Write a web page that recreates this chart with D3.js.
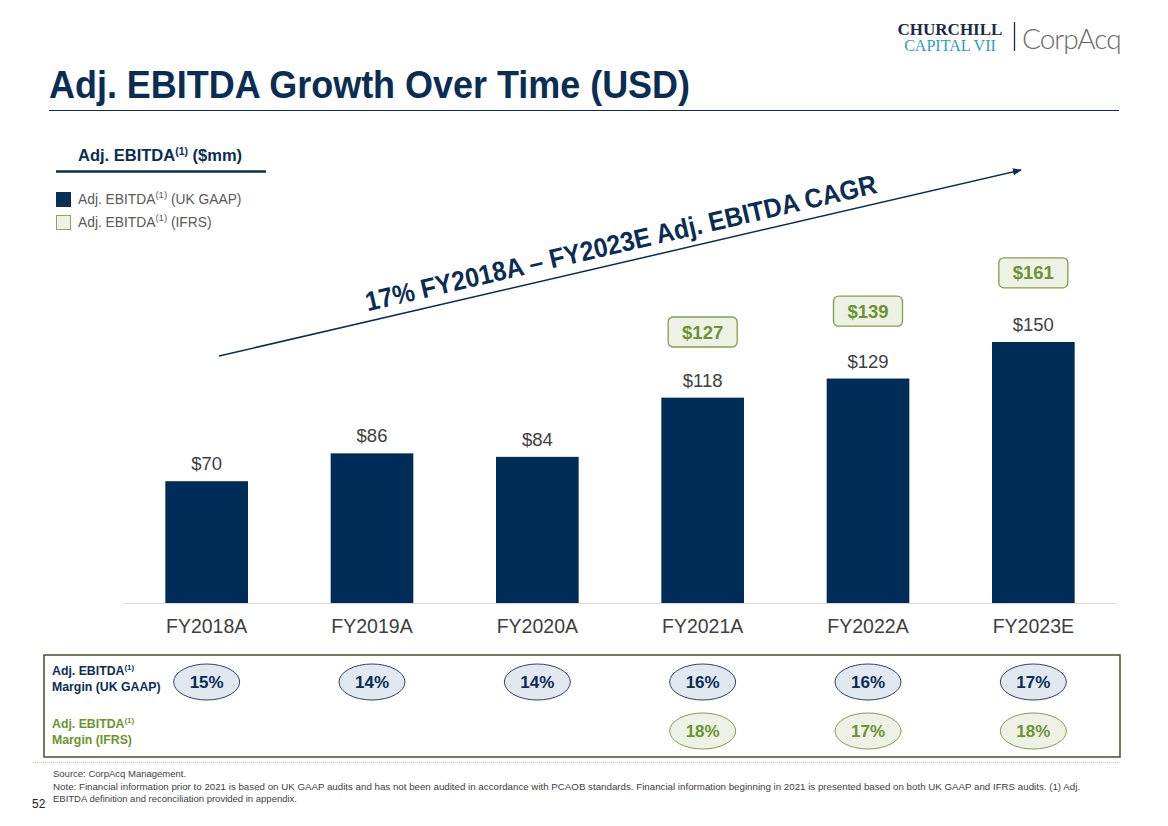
<!DOCTYPE html>
<html><head><meta charset="utf-8">
<script src="https://cdn.jsdelivr.net/npm/d3@7"></script>
<style>
html,body{margin:0;padding:0;background:#fff;}
svg{display:block;font-family:Arial,"Liberation Sans",sans-serif;}
</style></head>
<body>
<svg id="c" width="1168" height="826"></svg>
<script>
const categories = ["FY2018A","FY2019A","FY2020A","FY2021A","FY2022A","FY2023E"];
const gaapValues = [70, 86, 84, 118, 129, 150];
const ifrsValues = [null, null, null, 127, 139, 161];
const gaapMargins = ["15%","14%","14%","16%","16%","17%"];
const ifrsMargins = [null, null, null, "18%","17%","18%"];

const navy = "#0a2d55", green = "#6b9431", gray = "#404040";
const svg = d3.select("#c");

// scales
const x = d3.scaleBand().domain(categories).range([124, 1116]).paddingInner(0.5).paddingOuter(0.25);
const y = d3.scaleLinear().domain([0, 200]).range([603, 255]);

// Title
svg.append("text").attr("x", 49).attr("y", 98).attr("font-size", 39).attr("font-weight", "bold")
  .attr("fill", navy).attr("textLength", 641).attr("lengthAdjust", "spacingAndGlyphs")
  .text("Adj. EBITDA Growth Over Time (USD)");
svg.append("line").attr("x1", 49).attr("x2", 1119).attr("y1", 110.5).attr("y2", 110.5)
  .attr("stroke", navy).attr("stroke-width", 1);

// Logo
svg.append("text").attr("x", 950).attr("y", 35).attr("text-anchor", "middle")
  .attr("font-family", "'Liberation Serif','DejaVu Serif',serif").attr("font-weight", "bold")
  .attr("font-size", 17).attr("fill", "#1c2a48").text("CHURCHILL");
svg.append("text").attr("x", 950).attr("y", 51).attr("text-anchor", "middle")
  .attr("font-family", "'Liberation Serif','DejaVu Serif',serif")
  .attr("font-size", 16).attr("fill", "#2a9fb8").text("CAPITAL VII");
svg.append("line").attr("x1", 1014.5).attr("x2", 1014.5).attr("y1", 22).attr("y2", 51)
  .attr("stroke", "#1c2a48").attr("stroke-width", 1.3);
svg.append("text").attr("x", 1022).attr("y", 49).attr("font-size", 28).attr("font-weight", 300)
  .attr("font-family", "Lato,'Open Sans',sans-serif").attr("fill", "#6a6a6a").attr("letter-spacing", -1).text("CorpAcq");

// Legend header
const lh = svg.append("text").attr("x", 78).attr("y", 161).attr("font-size", 16.5).attr("font-weight", "bold").attr("fill", navy);
lh.append("tspan").text("Adj. EBITDA");
lh.append("tspan").attr("font-size", 10.5).attr("dy", -6).text("(1)");
lh.append("tspan").attr("dy", 6).text(" ($mm)");
svg.append("line").attr("x1", 56).attr("x2", 266).attr("y1", 171.5).attr("y2", 171.5).attr("stroke", navy).attr("stroke-width", 2.5);

const legendItems = [
  {label: "(UK GAAP)", fill: navy, stroke: navy},
  {label: "(IFRS)", fill: "#eef1e6", stroke: "#8aaa52"}
];
legendItems.forEach((d, i) => {
  const yy = 192 + i * 23;
  svg.append("rect").attr("x", 56.5).attr("y", yy + 0.5).attr("width", 14).attr("height", 14)
    .attr("fill", d.fill).attr("stroke", d.stroke).attr("stroke-width", 1);
  const t = svg.append("text").attr("x", 78).attr("y", yy + 12).attr("font-size", 13.8).attr("fill", "#595959");
  t.append("tspan").text("Adj. EBITDA");
  t.append("tspan").attr("font-size", 9.5).attr("dy", -6).text("(1)");
  t.append("tspan").attr("dy", 6).text(" " + d.label);
});

// baseline axis
const xAxis = d3.axisBottom(x).tickSize(0).tickPadding(16);
const ax = svg.append("g").attr("transform", `translate(0,${y(0)})`).call(xAxis);
ax.select(".domain").attr("stroke", "#d9d9d9").attr("d", "M124,0.5H1116");
ax.selectAll("text").attr("font-size", 19.5).attr("fill", gray).attr("font-family", "Arial,'Liberation Sans',sans-serif");

// bars
svg.selectAll("rect.bar").data(categories).enter().append("rect").attr("class", "bar")
  .attr("x", d => x(d)).attr("width", x.bandwidth())
  .attr("y", (d, i) => y(gaapValues[i])).attr("height", (d, i) => y(0) - y(gaapValues[i]))
  .attr("fill", "#002d57");

svg.selectAll("text.val").data(categories).enter().append("text").attr("class", "val")
  .attr("x", d => x(d) + x.bandwidth() / 2).attr("y", (d, i) => y(gaapValues[i]) - 11)
  .attr("text-anchor", "middle").attr("font-size", 18.5).attr("fill", gray)
  .text((d, i) => "$" + gaapValues[i]);

// IFRS boxes
categories.forEach((c, i) => {
  if (ifrsValues[i] == null) return;
  const cx = x(c) + x.bandwidth() / 2;
  const cy = y(ifrsValues[i]) - 50;
  svg.append("rect").attr("x", cx - 34.5).attr("y", cy - 15).attr("width", 69).attr("height", 30)
    .attr("rx", 5).attr("fill", "#eef2e6").attr("stroke", "#7fa046").attr("stroke-width", 1.3);
  svg.append("text").attr("x", cx).attr("y", cy + 6.5).attr("text-anchor", "middle")
    .attr("font-size", 18.5).attr("font-weight", "bold").attr("fill", green).text("$" + ifrsValues[i]);
});

// CAGR arrow
const defs = svg.append("defs");
defs.append("marker").attr("id", "arr").attr("viewBox", "0 0 10 10").attr("refX", 9).attr("refY", 5)
  .attr("markerWidth", 6).attr("markerHeight", 6).attr("orient", "auto")
  .append("path").attr("d", "M0,1L10,5L0,9Z").attr("fill", navy);
const ax0 = 219, ay0 = 356, ax1 = 1021, ay1 = 170;
svg.append("line").attr("x1", ax0).attr("y1", ay0).attr("x2", ax1).attr("y2", ay1)
  .attr("stroke", navy).attr("stroke-width", 1.5).attr("marker-end", "url(#arr)");
const ang = Math.atan2(ay1 - ay0, ax1 - ax0) * 180 / Math.PI;
svg.append("text").attr("transform", `translate(623,252) rotate(${ang})`).attr("text-anchor", "middle")
  .attr("font-size", 27).attr("font-weight", "bold").attr("fill", navy)
  .attr("textLength", 524).attr("lengthAdjust", "spacingAndGlyphs")
  .text("17% FY2018A \u2013 FY2023E Adj. EBITDA CAGR");

// Margin box
svg.append("rect").attr("x", 44).attr("y", 655).attr("width", 1076).attr("height", 102)
  .attr("fill", "none").attr("stroke", "#4d5a33").attr("stroke-width", 1.6);

function rowLabel(yy, color, second) {
  const t = svg.append("text").attr("x", 52).attr("y", yy).attr("font-size", 12.3).attr("font-weight", "bold").attr("fill", color);
  t.append("tspan").text("Adj. EBITDA");
  t.append("tspan").attr("font-size", 8).attr("dy", -5).text("(1)");
  svg.append("text").attr("x", 52).attr("y", yy + 16).attr("font-size", 12.3).attr("font-weight", "bold").attr("fill", color).text(second);
}
rowLabel(675, navy, "Margin (UK GAAP)");
rowLabel(728, green, "Margin (IFRS)");

categories.forEach((c, i) => {
  const cx = x(c) + x.bandwidth() / 2;
  svg.append("ellipse").attr("cx", cx).attr("cy", 682).attr("rx", 33).attr("ry", 18)
    .attr("fill", "#e1e8f0").attr("stroke", "#2a4466").attr("stroke-width", 1);
  svg.append("text").attr("x", cx).attr("y", 688).attr("text-anchor", "middle").attr("font-size", 17)
    .attr("font-weight", "bold").attr("fill", navy).text(gaapMargins[i]);
  if (ifrsMargins[i] != null) {
    svg.append("ellipse").attr("cx", cx).attr("cy", 731).attr("rx", 33).attr("ry", 18)
      .attr("fill", "#eef2e6").attr("stroke", "#7fa046").attr("stroke-width", 1);
    svg.append("text").attr("x", cx).attr("y", 737).attr("text-anchor", "middle").attr("font-size", 17)
      .attr("font-weight", "bold").attr("fill", green).text(ifrsMargins[i]);
  }
});

// dotted separator
svg.append("line").attr("x1", 33).attr("x2", 1120).attr("y1", 762.5).attr("y2", 762.5)
  .attr("stroke", "#c8c8c8").attr("stroke-width", 1).attr("stroke-dasharray", "1,1");

// Footnotes
const fnFont = "'Liberation Sans Narrow','Arial Narrow',Arial,sans-serif";
const foot = [
  {t: "Source: CorpAcq Management.", y: 777, len: null},
  {t: "Note: Financial information prior to 2021 is based on UK GAAP audits and has not been audited in accordance with PCAOB standards. Financial information beginning in 2021 is presented based on both UK GAAP and IFRS audits. (1) Adj.", y: 790, len: 1027},
  {t: "EBITDA definition and reconciliation provided in appendix.", y: 802, len: null}
];
foot.forEach(f => {
  const t = svg.append("text").attr("x", 53).attr("y", f.y).attr("font-size", 9.5)
    .attr("font-family", fnFont).attr("fill", "#404040").text(f.t);
  if (f.len) t.attr("textLength", f.len).attr("lengthAdjust", "spacingAndGlyphs");
});
svg.append("text").attr("x", 32).attr("y", 808).attr("font-size", 12).attr("font-family", fnFont)
  .attr("fill", "#222").text("52");
</script>
</body></html>
